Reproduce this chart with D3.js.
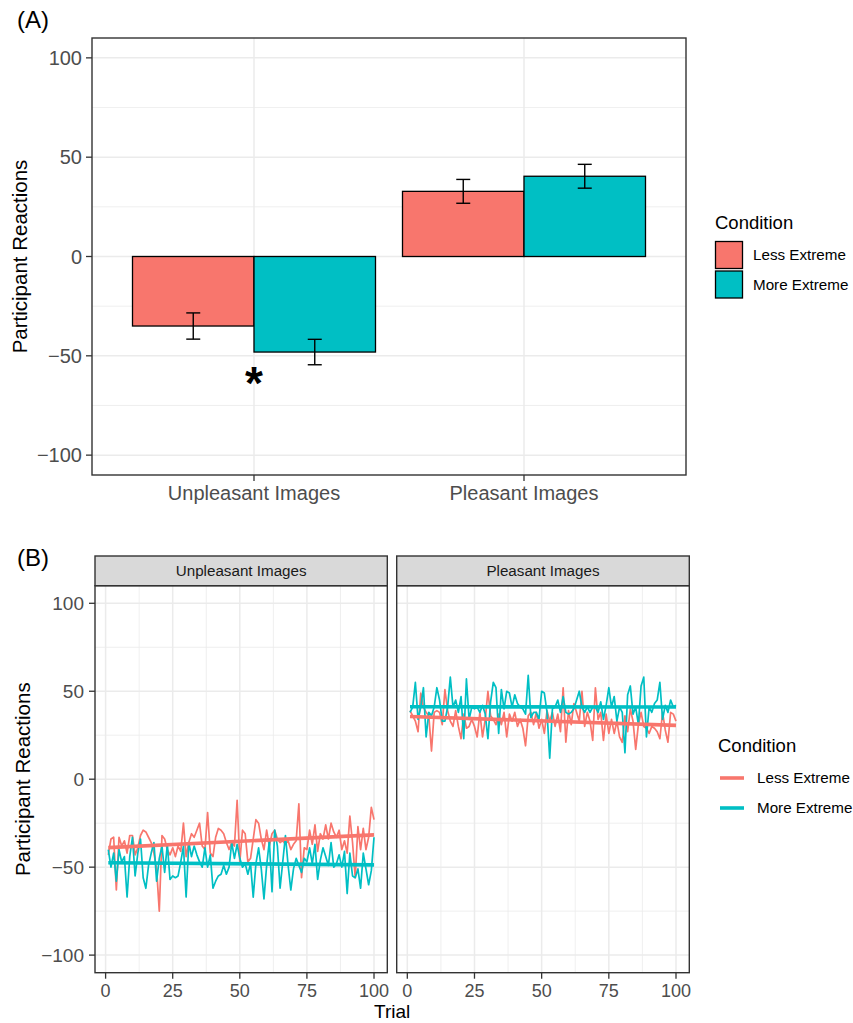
<!DOCTYPE html>
<html>
<head>
<meta charset="utf-8">
<script src="https://cdn.jsdelivr.net/npm/d3@7"></script>
<style>
  html, body { margin: 0; padding: 0; background: #ffffff; }
  svg { display: block; font-family: "Liberation Sans", Arial, Helvetica, sans-serif; }
</style>
</head>
<body>
<svg id="chart" width="853" height="1023"></svg>
<script>
// ---------- data ----------
const categories = ["Unpleasant Images", "Pleasant Images"];
const conditions = ["Less Extreme", "More Extreme"];
const conditionColors = ["#F8766D", "#00BFC4"];

// Panel A: condition means and error half-widths per image category
const meanLess = [-35.0, 32.8];
const meanMore = [-48.1, 40.4];
const errLess = [6.6, 6.0];
const errMore = [6.4, 6.0];

const reactionTicks = [-100, -50, 0, 50, 100];
const reactionMinor = [-75, -25, 25, 75];
const trialTicks = [0, 25, 50, 75, 100];
const trialMinor = [12.5, 37.5, 62.5, 87.5];

// Panel B: mean reaction on each of trials 1..100
const unpleasantLess = [
  -43, -34, -33, -63, -33, -38, -35, -42, -32, -32,
  -43, -39, -32, -29, -30, -33, -36, -42, -51, -75,
  -32, -34, -40, -43, -39, -44, -38, -41, -25, -44,
  -36, -31, -33, -29, -25, -38, -40, -19, -42, -44,
  -33, -28, -29, -31, -36, -40, -36, -38, -12, -47,
  -29, -31, -47, -45, -34, -23, -25, -34, -40, -29,
  -38, -31, -29, -34, -36, -35, -37, -35, -40, -37,
  -35, -14, -56, -39, -40, -29, -37, -26, -41, -31,
  -34, -26, -34, -25, -30, -33, -29, -40, -35, -42,
  -21, -36, -56, -27, -40, -28, -40, -33, -16, -23
];
const unpleasantMore = [
  -40, -50, -42, -58, -40, -47, -44, -67, -44, -33,
  -55, -42, -34, -56, -62, -49, -42, -36, -58, -45,
  -38, -53, -37, -57, -55, -56, -55, -47, -38, -67,
  -36, -44, -38, -43, -47, -50, -39, -50, -43, -62,
  -58, -55, -54, -49, -54, -50, -36, -45, -37, -45,
  -50, -48, -54, -48, -67, -48, -39, -51, -68, -49,
  -35, -64, -29, -38, -62, -47, -32, -49, -63, -51,
  -45, -49, -53, -45, -47, -39, -48, -37, -57, -46,
  -39, -44, -49, -36, -50, -48, -43, -50, -41, -65,
  -42, -55, -56, -51, -62, -42, -51, -60, -52, -33
];
const pleasantLess = [
  39, 36, 33, 27, 49, 41, 38, 36, 16, 38,
  39, 38, 31, 51, 39, 33, 30, 39, 30, 23,
  37, 29, 30, 34, 30, 24, 38, 24, 34, 50,
  36, 34, 31, 37, 31, 38, 24, 37, 33, 38,
  30, 34, 29, 19, 36, 38, 31, 38, 29, 34,
  26, 39, 33, 38, 30, 37, 27, 52, 21, 39,
  31, 43, 38, 33, 50, 30, 38, 33, 22, 52,
  34, 38, 22, 37, 26, 34, 26, 33, 24, 21,
  36, 27, 40, 33, 17, 31, 38, 30, 29, 26,
  30, 29, 27, 23, 38, 28, 21, 38, 37, 33
];
const pleasantMore = [
  38, 41, 55, 34, 41, 52, 24, 38, 36, 41,
  52, 45, 33, 33, 41, 58, 41, 45, 38, 47,
  23, 57, 34, 41, 40, 41, 38, 42, 37, 23,
  44, 55, 52, 26, 51, 40, 50, 49, 41, 48,
  43, 41, 40, 37, 59, 35, 38, 38, 34, 50,
  49, 38, 12, 40, 41, 45, 38, 47, 38, 37,
  38, 40, 45, 50, 41, 38, 41, 38, 41, 41,
  38, 44, 34, 42, 52, 41, 47, 33, 41, 38,
  15, 48, 53, 37, 41, 31, 53, 58, 24, 41,
  38, 43, 45, 55, 34, 42, 38, 45, 41, 42
];

const trialSeries = [
  [unpleasantLess, unpleasantMore],
  [pleasantLess, pleasantMore]
];

// ---------- helpers ----------
const svg = d3.select("#chart");
const GRID = "#ebebeb";
const BORDER = "#333333";
const TICKTEXT = "#4d4d4d";

// ordinary least-squares line over trials 1..n
function fitLine(values) {
  const n = values.length;
  const xs = values.map((_, i) => i + 1);
  const mx = d3.mean(xs), my = d3.mean(values);
  let sxy = 0, sxx = 0;
  for (let i = 0; i < n; i++) {
    sxy += (xs[i] - mx) * (values[i] - my);
    sxx += (xs[i] - mx) * (xs[i] - mx);
  }
  const b = sxy / sxx;
  const a = my - b * mx;
  return [[1, a + b], [n, a + b * n]];
}

// ========== Panel A: bar chart ==========
const A = { left: 92, right: 686, top: 38, bottom: 475 };
const xA = d3.scaleLinear().domain([0.4, 2.6]).range([A.left, A.right]);
const yA = d3.scaleLinear().domain([-110, 110]).range([A.bottom, A.top]);

svg.append("text").attr("x", 17).attr("y", 28)
  .attr("font-size", 24).attr("fill", "#000").text("(A)");

const gA = svg.append("g");
gA.append("rect").attr("x", A.left).attr("y", A.top)
  .attr("width", A.right - A.left).attr("height", A.bottom - A.top).attr("fill", "#fff");

gA.selectAll(".minorA").data(reactionMinor).join("line")
  .attr("x1", A.left).attr("x2", A.right)
  .attr("y1", d => yA(d)).attr("y2", d => yA(d))
  .attr("stroke", GRID).attr("stroke-width", 0.8);
gA.selectAll(".majorA").data(reactionTicks).join("line")
  .attr("x1", A.left).attr("x2", A.right)
  .attr("y1", d => yA(d)).attr("y2", d => yA(d))
  .attr("stroke", GRID).attr("stroke-width", 1.5);
gA.selectAll(".vgridA").data(categories).join("line")
  .attr("x1", (d, i) => xA(i + 1)).attr("x2", (d, i) => xA(i + 1))
  .attr("y1", A.top).attr("y2", A.bottom)
  .attr("stroke", GRID).attr("stroke-width", 1.5);

const barRows = [];
categories.forEach((c, i) => {
  barRows.push({ cat: i, cond: 0, mean: meanLess[i], err: errLess[i] });
  barRows.push({ cat: i, cond: 1, mean: meanMore[i], err: errMore[i] });
});
const dodge = 0.45;
const barX = d => xA(d.cat + 1 + (d.cond === 0 ? -dodge : 0));
const barCenter = d => xA(d.cat + 1 + (d.cond === 0 ? -dodge / 2 : dodge / 2));

gA.selectAll(".bar").data(barRows).join("rect")
  .attr("x", barX)
  .attr("width", xA(1 + dodge) - xA(1))
  .attr("y", d => yA(Math.max(0, d.mean)))
  .attr("height", d => Math.abs(yA(d.mean) - yA(0)))
  .attr("fill", d => conditionColors[d.cond])
  .attr("stroke", "#000").attr("stroke-width", 1.3);

const capHalf = 7;
const eb = gA.selectAll(".eb").data(barRows).join("g");
eb.append("line")
  .attr("x1", barCenter).attr("x2", barCenter)
  .attr("y1", d => yA(d.mean + d.err)).attr("y2", d => yA(d.mean - d.err))
  .attr("stroke", "#000").attr("stroke-width", 1.4);
eb.append("line")
  .attr("x1", d => barCenter(d) - capHalf).attr("x2", d => barCenter(d) + capHalf)
  .attr("y1", d => yA(d.mean + d.err)).attr("y2", d => yA(d.mean + d.err))
  .attr("stroke", "#000").attr("stroke-width", 1.4);
eb.append("line")
  .attr("x1", d => barCenter(d) - capHalf).attr("x2", d => barCenter(d) + capHalf)
  .attr("y1", d => yA(d.mean - d.err)).attr("y2", d => yA(d.mean - d.err))
  .attr("stroke", "#000").attr("stroke-width", 1.4);

// significance marker between the unpleasant bars
gA.append("text").attr("x", xA(1)).attr("y", yA(-60) + 23)
  .attr("text-anchor", "middle").attr("font-size", 46).attr("font-weight", "bold")
  .attr("fill", "#000").text("*");

gA.append("rect").attr("x", A.left).attr("y", A.top)
  .attr("width", A.right - A.left).attr("height", A.bottom - A.top)
  .attr("fill", "none").attr("stroke", BORDER).attr("stroke-width", 1.4);

// y axis A
gA.selectAll(".ytA").data(reactionTicks).join("line")
  .attr("x1", A.left - 6).attr("x2", A.left)
  .attr("y1", d => yA(d)).attr("y2", d => yA(d))
  .attr("stroke", BORDER).attr("stroke-width", 1.3);
gA.selectAll(".ylA").data(reactionTicks).join("text")
  .attr("x", A.left - 10).attr("y", d => yA(d)).attr("dy", "0.36em")
  .attr("text-anchor", "end").attr("font-size", 20).attr("fill", TICKTEXT)
  .text(d => d < 0 ? "\u2212" + Math.abs(d) : d);
// x axis A
gA.selectAll(".xtA").data(categories).join("line")
  .attr("x1", (d, i) => xA(i + 1)).attr("x2", (d, i) => xA(i + 1))
  .attr("y1", A.bottom).attr("y2", A.bottom + 6)
  .attr("stroke", BORDER).attr("stroke-width", 1.3);
gA.selectAll(".xlA").data(categories).join("text")
  .attr("x", (d, i) => xA(i + 1)).attr("y", 500)
  .attr("text-anchor", "middle").attr("font-size", 20).attr("fill", TICKTEXT)
  .text(d => d);

svg.append("text")
  .attr("transform", `translate(27,${(A.top + A.bottom) / 2}) rotate(-90)`)
  .attr("text-anchor", "middle").attr("font-size", 20.5).attr("fill", "#000")
  .text("Participant Reactions");

// legend A
const legA = svg.append("g");
legA.append("text").attr("x", 715).attr("y", 229)
  .attr("font-size", 18.5).attr("fill", "#000").text("Condition");
conditions.forEach((c, i) => {
  legA.append("rect").attr("x", 715.5).attr("y", 241.5 + i * 29.5)
    .attr("width", 27).attr("height", 27)
    .attr("fill", conditionColors[i]).attr("stroke", "#000").attr("stroke-width", 1.3);
  legA.append("text").attr("x", 753).attr("y", 255 + i * 29.5).attr("dy", "0.36em")
    .attr("font-size", 15.2).attr("fill", "#000").text(c);
});

// ========== Panel B: trial-by-trial lines ==========
svg.append("text").attr("x", 17).attr("y", 566)
  .attr("font-size", 24).attr("fill", "#000").text("(B)");

const B = { top: 585.7, bottom: 972.7, stripTop: 556 };
const facetX = [[95, 387.3], [396.7, 689.3]];
const yB = d3.scaleLinear().domain([-110, 110]).range([B.bottom, B.top]);

categories.forEach((cat, f) => {
  const [l, r] = facetX[f];
  const xB = d3.scaleLinear().domain([-3.95, 104.95]).range([l, r]);
  const g = svg.append("g");

  g.append("rect").attr("x", l).attr("y", B.top).attr("width", r - l)
    .attr("height", B.bottom - B.top).attr("fill", "#fff");
  g.selectAll(".ymin").data(reactionMinor).join("line")
    .attr("x1", l).attr("x2", r).attr("y1", d => yB(d)).attr("y2", d => yB(d))
    .attr("stroke", GRID).attr("stroke-width", 0.8);
  g.selectAll(".xmin").data(trialMinor).join("line")
    .attr("y1", B.top).attr("y2", B.bottom).attr("x1", d => xB(d)).attr("x2", d => xB(d))
    .attr("stroke", GRID).attr("stroke-width", 0.8);
  g.selectAll(".ymaj").data(reactionTicks).join("line")
    .attr("x1", l).attr("x2", r).attr("y1", d => yB(d)).attr("y2", d => yB(d))
    .attr("stroke", GRID).attr("stroke-width", 1.5);
  g.selectAll(".xmaj").data(trialTicks).join("line")
    .attr("y1", B.top).attr("y2", B.bottom).attr("x1", d => xB(d)).attr("x2", d => xB(d))
    .attr("stroke", GRID).attr("stroke-width", 1.5);

  const line = d3.line().x((d, i) => xB(i + 1)).y(d => yB(d));
  trialSeries[f].forEach((vals, c) => {
    g.append("path").datum(vals).attr("d", line)
      .attr("fill", "none").attr("stroke", conditionColors[c])
      .attr("stroke-width", 1.7).attr("stroke-linejoin", "round");
  });
  const fitPath = d3.line().x(d => xB(d[0])).y(d => yB(d[1]));
  trialSeries[f].forEach((vals, c) => {
    g.append("path").datum(fitLine(vals)).attr("d", fitPath)
      .attr("fill", "none").attr("stroke", conditionColors[c])
      .attr("stroke-width", 3.6);
  });

  g.append("rect").attr("x", l).attr("y", B.top).attr("width", r - l)
    .attr("height", B.bottom - B.top).attr("fill", "none")
    .attr("stroke", BORDER).attr("stroke-width", 1.4);

  // facet strip
  g.append("rect").attr("x", l).attr("y", B.stripTop).attr("width", r - l)
    .attr("height", B.top - B.stripTop).attr("fill", "#d9d9d9")
    .attr("stroke", BORDER).attr("stroke-width", 1.4);
  g.append("text").attr("x", (l + r) / 2).attr("y", (B.stripTop + B.top) / 2)
    .attr("dy", "0.36em").attr("text-anchor", "middle")
    .attr("font-size", 15.2).attr("fill", "#1a1a1a").text(cat);

  // x axis
  g.selectAll(".xt").data(trialTicks).join("line")
    .attr("x1", d => xB(d)).attr("x2", d => xB(d))
    .attr("y1", B.bottom).attr("y2", B.bottom + 6)
    .attr("stroke", BORDER).attr("stroke-width", 1.3);
  g.selectAll(".xl").data(trialTicks).join("text")
    .attr("x", d => xB(d)).attr("y", 996.5)
    .attr("text-anchor", "middle").attr("font-size", 18).attr("fill", TICKTEXT)
    .text(d => d);

  if (f === 0) {
    g.selectAll(".yt").data(reactionTicks).join("line")
      .attr("x1", l - 6).attr("x2", l)
      .attr("y1", d => yB(d)).attr("y2", d => yB(d))
      .attr("stroke", BORDER).attr("stroke-width", 1.3);
    g.selectAll(".yl").data(reactionTicks).join("text")
      .attr("x", l - 11).attr("y", d => yB(d)).attr("dy", "0.36em")
      .attr("text-anchor", "end").attr("font-size", 19).attr("fill", TICKTEXT)
      .text(d => d < 0 ? "\u2212" + Math.abs(d) : d);
  }
});

svg.append("text")
  .attr("transform", `translate(30,${(B.top + B.bottom) / 2}) rotate(-90)`)
  .attr("text-anchor", "middle").attr("font-size", 20.5).attr("fill", "#000")
  .text("Participant Reactions");
svg.append("text").attr("x", (facetX[0][0] + facetX[1][1]) / 2).attr("y", 1018)
  .attr("text-anchor", "middle").attr("font-size", 19).attr("fill", "#000")
  .text("Trial");

// legend B
const legB = svg.append("g");
legB.append("text").attr("x", 718).attr("y", 752)
  .attr("font-size", 18.5).attr("fill", "#000").text("Condition");
conditions.forEach((c, i) => {
  legB.append("line").attr("x1", 720).attr("x2", 744)
    .attr("y1", 778 + i * 30).attr("y2", 778 + i * 30)
    .attr("stroke", conditionColors[i]).attr("stroke-width", 3.6);
  legB.append("text").attr("x", 757).attr("y", 778 + i * 30).attr("dy", "0.36em")
    .attr("font-size", 15.2).attr("fill", "#000").text(c);
});
</script>
</body>
</html>
